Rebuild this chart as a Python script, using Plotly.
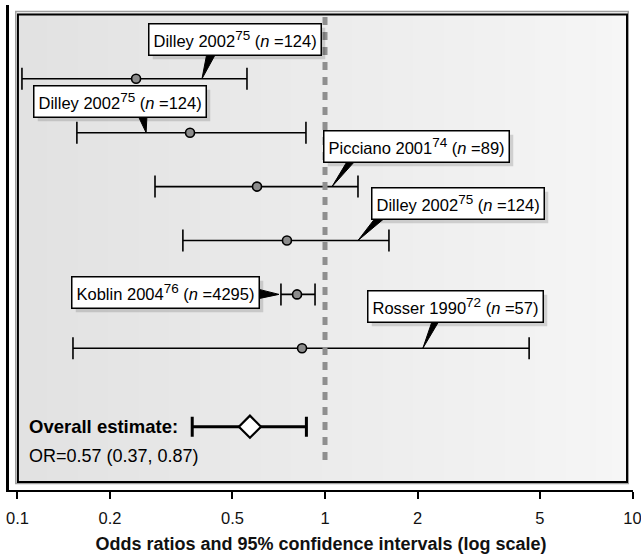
import numpy as np
import plotly.graph_objects as go

# ---- data ----
studies = ["Dilley 2002", "Dilley 2002", "Picciano 2001", "Dilley 2002", "Koblin 2004", "Rosser 1990"]
refs = ["75", "75", "74", "75", "76", "72"]
n_sizes = [124, 124, 89, 124, 4295, 57]
odds_ratio = [0.243, 0.364, 0.601, 0.752, 0.811, 0.842]
ci_low = [0.1034, 0.156, 0.280, 0.345, 0.719, 0.1515]
ci_high = [0.5575, 0.867, 1.28, 1.614, 0.928, 4.61]
row_pos = [6, 5, 4, 3, 2, 1]
callout_at = [0.398, 0.262, 1.054, 1.28, 0.7085, 2.08]

overall_or = 0.57
overall_low = 0.37
overall_high = 0.87
overall_pos = -0.455

tick_vals = [0.1, 0.2, 0.5, 1, 2, 5, 10]
tick_text = ["0.1", "0.2", "0.5", "1", "2", "5", "10"]

# ---- layout/styling constants ----
FONT = "Liberation Sans, Arial, sans-serif"
W, H = 641, 557
ML, MR, MT, MB = 9, 8, 5, 67

# label box offsets (px, relative to callout tip) and pointer wedges
box_shift = [(33, 39.5), (-26, 30.7), (84.5, 39.7), (100.5, 36.7), (-113.5, 2), (33, 41.8)]
wedges = [
    "M0,0 L6,31 L17,31 Z",
    "M0,0 L-10,21 L1,21 Z",
    "M0,0 L18,30 L27,30 Z",
    "M0,0 L20,26 L31,26 Z",
    "M0,0 L-24,6 L-24,-5 Z",
    "M0,0 L11,32 L19,32 Z",
]

fig = go.Figure()

err_plus = [h - o for h, o in zip(ci_high, odds_ratio)]
err_minus = [o - l for o, l in zip(odds_ratio, ci_low)]

fig.add_trace(go.Scatter(
    x=odds_ratio, y=row_pos, mode="markers",
    marker=dict(symbol="circle", size=9, color="#8c8c8c", line=dict(color="black", width=1.6)),
    error_x=dict(type="data", symmetric=False, array=err_plus, arrayminus=err_minus,
                 color="black", thickness=1.6, width=11),
    showlegend=False, hoverinfo="skip",
))

fig.add_trace(go.Scatter(
    x=[overall_or], y=[overall_pos], mode="markers",
    marker=dict(symbol="diamond", size=17, color="white", line=dict(color="black", width=2.2)),
    error_x=dict(type="data", symmetric=False, array=[overall_high - overall_or],
                 arrayminus=[overall_or - overall_low], color="black", thickness=3, width=10),
    showlegend=False, hoverinfo="skip",
))

shapes = []
# panel gradient (left darker -> right lighter)
PW = W - ML - MR
px0, px1 = (17 - ML) / PW, (627 - ML) / PW
ph = H - MT - MB
py0, py1 = (490 - 482) / ph, (490 - 13) / ph
nstrip = 40
for i in range(nstrip):
    t = i / (nstrip - 1)
    c = int(226 + (246 - 226) * t)
    a = px0 + (px1 - px0) * i / nstrip
    b = px0 + (px1 - px0) * (i + 1) / nstrip + 0.002
    shapes.append(dict(type="rect", xref="paper", yref="paper", x0=a, x1=min(b, px1),
                       y0=py0, y1=py1, fillcolor=f"rgb({c},{c},{c})", line=dict(width=0), layer="below"))
# halo + border
shapes.append(dict(type="rect", xref="paper", yref="paper", x0=px0 - 0.002, x1=px1 + 0.002,
                   y0=py0 - 0.003, y1=py1 + 0.003, line=dict(color="#a0a0a0", width=1.5), layer="below"))
shapes.append(dict(type="rect", xref="paper", yref="paper", x0=px0 + 0.0015, x1=px1,
                   y0=py0, y1=py1 - 0.003, line=dict(color="black", width=2), layer="below"))
# reference line at OR = 1
shapes.append(dict(type="line", xref="x", yref="paper", x0=1, x1=1,
                   y0=(490 - 460) / ph, y1=py1, line=dict(color="#8f8f8f", width=5, dash="8px,7px"),
                   layer="above"))
# callout pointers
for xa, ya, p in zip(callout_at, row_pos, wedges):
    shapes.append(dict(type="path", xref="x", yref="y", xsizemode="pixel", ysizemode="pixel",
                       xanchor=xa, yanchor=ya, path=p, fillcolor="black",
                       line=dict(color="black", width=1), layer="above"))

annotations = []
for name, r, n, xa, ya, (dx, dy) in zip(studies, refs, n_sizes, callout_at, row_pos, box_shift):
    txt = f"{name}<sup><span style='font-size:13.5px'>{r}</span></sup> (<i>n</i> ={n})"
    annotations.append(dict(x=np.log10(xa), y=ya, xref="x", yref="y", text=txt, showarrow=False,
                            xshift=dx + 4, yshift=dy - 4, bgcolor="rgba(0,0,0,0.14)",
                            borderpad=4, borderwidth=1.5, bordercolor="rgba(0,0,0,0)",
                            font=dict(family=FONT, size=16.5, color="rgba(0,0,0,0)")))
    annotations.append(dict(x=np.log10(xa), y=ya, xref="x", yref="y", text=txt, showarrow=False,
                            xshift=dx, yshift=dy, bgcolor="white",
                            borderpad=4, borderwidth=1.5, bordercolor="black",
                            font=dict(family=FONT, size=16.5, color="black")))

annotations.append(dict(x=(27 - ML) / PW, y=overall_pos, xref="paper", yref="y",
                        text="<b>Overall estimate:</b>", showarrow=False, xanchor="left",
                        font=dict(family=FONT, size=18.5, color="black")))
annotations.append(dict(x=(27 - ML) / PW, y=overall_pos - 0.543, xref="paper", yref="y",
                        text=f"OR={overall_or:.2f} ({overall_low:.2f}, {overall_high:.2f})",
                        showarrow=False, xanchor="left",
                        font=dict(family=FONT, size=18, color="black")))

fig.update_layout(
    width=W, height=H,
    margin=dict(l=ML, r=MR, t=MT, b=MB, autoexpand=False),
    paper_bgcolor="white", plot_bgcolor="white",
    shapes=shapes, annotations=annotations,
    xaxis=dict(type="log", range=[-1.0276, 1.0015], tickvals=tick_vals, ticktext=tick_text,
               automargin=False,
               showgrid=False, zeroline=False, showline=True, linecolor="black", linewidth=2,
               ticks="outside", ticklen=7, tickwidth=2, tickcolor="black",
               ticklabelstandoff=5, ticklabeloverflow="allow",
               tickfont=dict(family=FONT, size=16.5, color="#111"),
               title=dict(text="<b>Odds ratios and 95% confidence intervals (log scale)</b>",
                          font=dict(family=FONT, size=18, color="#111"), standoff=12)),
    yaxis=dict(range=[-1.629, 7.369], showgrid=False, zeroline=False, showticklabels=False,
               automargin=False,
               showline=True, linecolor="black", linewidth=3, ticks=""),
)

fig.write_html("out.html")
